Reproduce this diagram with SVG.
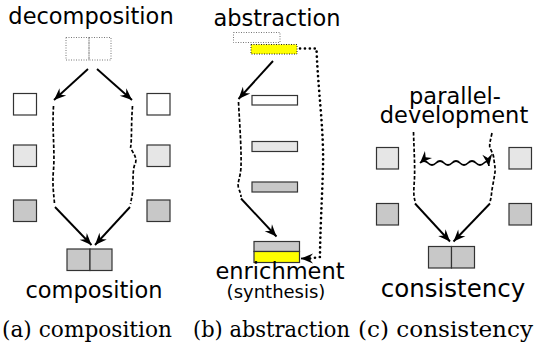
<svg xmlns="http://www.w3.org/2000/svg" width="534" height="345" viewBox="0 0 534 345">
<defs>
<marker id="ah" viewBox="-13 -6 14 12" markerWidth="14" markerHeight="12" refX="0" refY="0" orient="auto" markerUnits="userSpaceOnUse">
<path d="M0,0 L-12,-5 L-8,0 L-12,5 Z" fill="#000"/>
</marker>
<marker id="ahs" viewBox="-13 -6 14 12" markerWidth="14" markerHeight="12" refX="0" refY="0" orient="auto-start-reverse" markerUnits="userSpaceOnUse">
<path d="M0,0 L-12,-5 L-8,0 L-12,5 Z" fill="#000"/>
</marker>
</defs>
<style>
.lbl{font-family:"DejaVu Sans",sans-serif;font-size:22.5px;fill:#000;text-anchor:middle}
.sm{font-size:18px}
.cap{font-family:"DejaVu Serif","Liberation Serif",serif;font-size:22.5px;fill:#000}
.b{stroke:#333;stroke-width:1.2}
.w{fill:#fff}
.l{fill:#e6e6e6}
.g{fill:#c8c8c8}
.y{fill:#ffff00}
.dot{fill:none;stroke:#777;stroke-width:1;stroke-dasharray:1 1.5}
.arr{fill:none;stroke:#000;stroke-width:1.9;marker-end:url(#ah)}
.dsh{fill:none;stroke:#000;stroke-width:1.7;stroke-dasharray:3.5 2}
.dt{fill:none;stroke:#000;stroke-width:2.6;stroke-dasharray:0.1 4.8;stroke-linecap:round}
</style>

<!-- Panel a -->
<g id="a-decomp">
<text class="lbl" x="91" y="24">decomposition</text>
<rect class="dot" x="66" y="37.5" width="23" height="22.5"/>
<rect class="dot" x="89" y="37.5" width="22" height="22.5"/>
</g>
<g id="a-left">
<rect class="b w" x="13.5" y="93.5" width="23" height="21.5"/>
<rect class="b l" x="13.5" y="145" width="23" height="21.5"/>
<rect class="b g" x="13.5" y="200" width="23" height="21.5"/>
</g>
<g id="a-right">
<rect class="b w" x="147" y="93.5" width="23" height="21.5"/>
<rect class="b l" x="147" y="145" width="23" height="21.5"/>
<rect class="b g" x="147" y="200" width="23" height="21.5"/>
</g>
<g id="a-comp">
<rect class="b g" x="67" y="249" width="23" height="21.5"/>
<rect class="b g" x="90" y="249" width="22" height="21.5"/>
<text class="lbl" x="94" y="298">composition</text>
</g>

<!-- Panel b -->
<g id="b-abs">
<text class="lbl" x="277" y="26">abstraction</text>
<rect class="dot" x="233.5" y="32.5" width="46.5" height="10"/>
<rect class="y" x="251" y="44.5" width="46" height="9.5"/>
<rect x="251" y="44.5" width="46" height="9.5" fill="none" stroke="#222" stroke-width="1" stroke-dasharray="1 1.5"/>
</g>
<g id="b-levels">
<rect class="b w" x="252" y="95.5" width="45.5" height="9.5"/>
<rect class="b l" x="252" y="141.5" width="45.5" height="10"/>
<rect class="b g" x="252" y="182" width="45.5" height="10"/>
</g>
<g id="b-enrich">
<rect class="b g" x="254" y="241.5" width="45.5" height="10"/>
<rect class="b y" x="254" y="251.5" width="45.5" height="11"/>
<text class="lbl" x="280" y="279">enrichment</text>
<text class="lbl sm" x="276" y="298">(synthesis)</text>
</g>

<!-- Panel c -->
<g id="c-par">
<text class="lbl" x="455" y="104">parallel-</text>
<text class="lbl" x="454" y="123">development</text>
</g>
<g id="c-left">
<rect class="b l" x="376.5" y="147.5" width="22" height="21.5"/>
<rect class="b g" x="376.5" y="203.5" width="22" height="21.5"/>
</g>
<g id="c-right">
<rect class="b l" x="509" y="147.5" width="22.5" height="21.5"/>
<rect class="b g" x="509" y="203.5" width="22.5" height="21.5"/>
</g>
<g id="c-cons">
<rect class="b g" x="428.5" y="246.5" width="23" height="21.5"/>
<rect class="b g" x="451.5" y="246.5" width="23" height="21.5"/>
<text class="lbl" x="453" y="297" style="font-size:24.5px">consistency</text>
</g>

<!-- connectors -->
<g id="connectors">
<!-- a -->
<path class="arr" d="M88,69 L54,100"/>
<path class="arr" d="M97,69 L132,100"/>
<path class="dsh" d="M53.5,106 C52,130 55,150 53.5,170 C52,185 54,195 54.5,204"/>
<path class="dsh" d="M132.5,106 C131,125 132,140 130.5,148 C134,154 137,158 135.5,163 C133,167 133,175 133,185 C133,193 131.5,198 130.5,204"/>
<path class="arr" d="M55,207 L91.5,245"/>
<path class="arr" d="M130,207 L95,245"/>
<!-- b -->
<path class="arr" d="M273,61 L238.5,99"/>
<path class="dsh" d="M238.5,102 C240,130 241.5,150 241,167 C240.5,178 237,182 238.5,188 C240,192 241,194 241,197"/>
<path class="arr" d="M241,198.5 L276.5,236.5"/>
<path class="dt" d="M300,48.5 L316.5,48.5 C318,90 324,130 323,167 C322,200 320,235 320,257 L310,258.5"/>
<path fill="none" stroke="#000" stroke-width="1.8" d="M311,258.5 L301,258.5" marker-end="url(#ah)"/>
<!-- c -->
<path class="dsh" d="M413.5,132 C414,150 415,165 414.5,178 C414,188 413,194 415,201"/>
<path class="dsh" d="M492,133 C490.5,140 489,145 490,148 C492,152 494,156 494,160 C494.5,165 495.5,168 495,172 C494,180 492,188 491.5,194 C491,198 490.5,200 490,202"/>
<path fill="none" stroke="#000" stroke-width="1.7" marker-start="url(#ahs)" marker-end="url(#ah)" d="M420,163 q4,-4 8,0 t8,0 t8,0 t8,0 t8,0 t8,0 t8,0 t8,0 t5,3"/>
<path class="arr" d="M415,203.5 L450,241.5"/>
<path class="arr" d="M490,203.5 L453.5,241.5"/>
</g>

<!-- captions -->
<text class="cap" x="2" y="337" textLength="170" lengthAdjust="spacingAndGlyphs">(a) composition</text>
<text class="cap" x="193" y="337" textLength="157" lengthAdjust="spacingAndGlyphs">(b) abstraction</text>
<text class="cap" x="358" y="337" textLength="175" lengthAdjust="spacingAndGlyphs">(c) consistency</text>
</svg>
